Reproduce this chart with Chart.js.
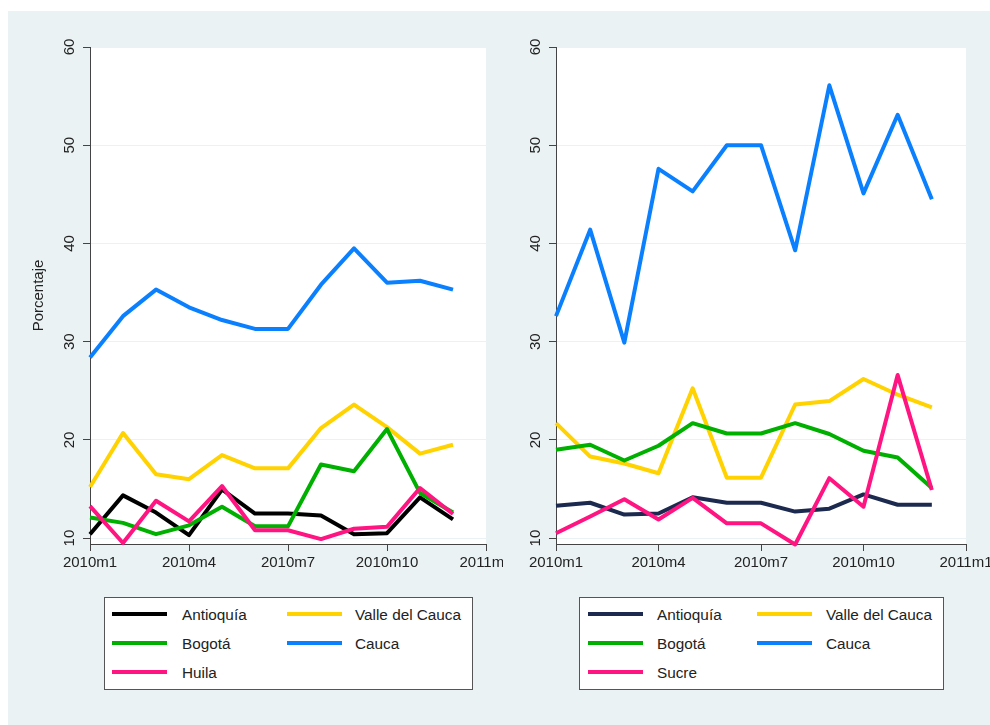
<!DOCTYPE html>
<html>
<head>
<meta charset="utf-8">
<script src="https://cdn.jsdelivr.net/npm/chart.js@4.4.1/dist/chart.umd.min.js"></script>
<style>
  body { margin: 0; width: 990px; height: 725px; overflow: hidden; position: relative; background: #fff;
         font-family: "Liberation Sans", Arial, sans-serif; }
  #bg { position: absolute; left: 8px; top: 11px; right: 0; bottom: 0; background: #eaf2f3; }
  canvas { position: absolute; top: 11px; }
  .legend { position: absolute; top: 597px; height: 93px; box-sizing: border-box; border: 1px solid #555; background: #fff; }
  .legend .swatch { position: absolute; width: 55px; height: 4px; }
  .legend .name { position: absolute; font-size: 15.3px; line-height: 18px; color: #222; white-space: nowrap; }
</style>
</head>
<body>
<div id="bg"></div>
<canvas id="left" width="495" height="580" style="left:8px"></canvas>
<canvas id="right" width="487" height="580" style="left:503px"></canvas>
<div class="legend" id="legLeft" style="left:104px;width:369px"></div>
<div class="legend" id="legRight" style="left:579px;width:365px"></div>
<script>
// monthly x axis, 2010m1 .. 2011m1
const months = ['2010m1', '2010m2', '2010m3', '2010m4', '2010m5', '2010m6', '2010m7',
                '2010m8', '2010m9', '2010m10', '2010m11', '2010m12', '2011m1'];
const yTicks = [10, 20, 30, 40, 50, 60];

// left panel
const leftAntioquia = [10.4, 14.35, 12.6, 10.3, 14.95, 12.5, 12.5, 12.3, 10.4, 10.5, 14.15, 11.9];
const leftValle     = [15.2, 20.7, 16.5, 16.0, 18.45, 17.1, 17.1, 21.2, 23.6, 21.3, 18.6, 19.5];
const leftBogota    = [12.1, 11.55, 10.4, 11.3, 13.2, 11.2, 11.2, 17.5, 16.8, 21.1, 14.6, 12.6];
const leftCauca     = [28.4, 32.6, 35.3, 33.5, 32.2, 31.3, 31.3, 35.8, 39.5, 36.0, 36.2, 35.3];
const leftHuila     = [13.25, 9.5, 13.8, 11.7, 15.3, 10.8, 10.8, 9.9, 10.95, 11.15, 15.1, 12.45];

// right panel
const rightAntioquia = [13.3, 13.6, 12.4, 12.5, 14.15, 13.6, 13.6, 12.7, 13.0, 14.45, 13.4, 13.4];
const rightValle     = [21.7, 18.3, 17.6, 16.6, 25.25, 16.15, 16.15, 23.6, 23.95, 26.2, 24.6, 23.3];
const rightBogota    = [19.0, 19.5, 17.9, 19.4, 21.7, 20.65, 20.65, 21.7, 20.6, 18.9, 18.2, 15.1];
const rightCauca     = [32.6, 41.4, 29.9, 47.6, 45.3, 50.0, 50.0, 39.3, 56.1, 45.1, 53.1, 44.5];
const rightSucre     = [10.5, 12.2, 13.95, 11.9, 14.1, 11.5, 11.5, 9.35, 16.1, 13.2, 26.6, 14.9];

const BLACK = '#000000', NAVY = '#1d2a4f', GOLD = '#ffd200', GREEN = '#00b000', BLUE = '#0a80ff', PINK = '#ff1482';
const FONT = '"Liberation Sans", Arial, sans-serif';

Chart.defaults.font.family = FONT;
Chart.defaults.font.size = 15;
Chart.defaults.color = '#222';

function series(label, data, color) {
  return { label: label, data: data, borderColor: color, backgroundColor: color,
           borderWidth: 4, borderJoinStyle: 'round', pointRadius: 0, tension: 0, clip: false };
}

// white plot region + vertical y tick labels
const plotBox = {
  id: 'plotBox',
  beforeDraw(chart) {
    const a = chart.chartArea, ctx = chart.ctx;
    ctx.save();
    ctx.fillStyle = '#fff';
    ctx.fillRect(a.left, a.top, a.right - a.left, a.bottom - a.top);
    ctx.restore();
  },
  afterDraw(chart) {
    const y = chart.scales.y, ctx = chart.ctx;
    ctx.save();
    ctx.font = '15px ' + FONT;
    ctx.fillStyle = '#222';
    ctx.textAlign = 'center';
    ctx.textBaseline = 'middle';
    y.ticks.forEach(t => {
      ctx.save();
      ctx.translate(chart.chartArea.left - 20, y.getPixelForValue(t.value));
      ctx.rotate(-Math.PI / 2);
      ctx.fillText(String(t.value), 0, 0);
      ctx.restore();
    });
    ctx.restore();
  }
};

function makeChart(id, datasets, yWidth, padRight, showTitle) {
  // later series are drawn on top
  datasets.forEach((d, i) => { d.order = datasets.length - i; });
  return new Chart(document.getElementById(id), {
    type: 'line',
    data: { labels: months, datasets: datasets },
    plugins: [plotBox],
    options: {
      responsive: false,
      animation: false,
      layout: { padding: { top: 36, right: padRight, left: 0, bottom: 0 } },
      plugins: { legend: { display: false }, tooltip: { enabled: false } },
      scales: {
        x: {
          type: 'category',
          bounds: 'ticks',
          afterBuildTicks: s => { s.ticks = s.ticks.filter(t => t.value % 3 === 0); },
          afterFit: s => { s.height = 47; s.paddingLeft = 0; s.paddingRight = 0; },
          grid: { drawOnChartArea: false, tickLength: 7, tickColor: '#444' },
          border: { color: '#444', width: 1 },
          ticks: { autoSkip: false, maxRotation: 0, minRotation: 0, padding: 3, color: '#222' }
        },
        y: {
          min: 9.4,
          max: 60,
          afterBuildTicks: s => { s.ticks = yTicks.map(v => ({ value: v })); },
          afterFit: s => { s.width = yWidth; s.paddingTop = 0; s.paddingBottom = 0; },
          grid: { color: '#eaf2f3', lineWidth: 1, tickLength: 7, tickColor: '#444' },
          border: { color: '#444', width: 1 },
          ticks: { display: false },
          title: { display: showTitle, text: 'Porcentaje', color: '#222',
                   padding: { top: 22, bottom: 0 } }
        }
      }
    }
  });
}

function buildLegend(el, datasets, cols) {
  const rows = [16, 45, 74];
  datasets.forEach((d, i) => {
    const c = cols[i % 2], r = rows[Math.floor(i / 2)];
    const sw = document.createElement('div');
    sw.className = 'swatch';
    sw.style.left = c[0] + 'px';
    sw.style.top = (r - 2) + 'px';
    sw.style.background = d.borderColor;
    el.appendChild(sw);
    const tx = document.createElement('div');
    tx.className = 'name';
    tx.style.left = c[1] + 'px';
    tx.style.top = (r - 8) + 'px';
    tx.textContent = d.label;
    el.appendChild(tx);
  });
}

const leftSets = [
  series('Antioquía', leftAntioquia, BLACK),
  series('Valle del Cauca', leftValle, GOLD),
  series('Bogotá', leftBogota, GREEN),
  series('Cauca', leftCauca, BLUE),
  series('Huila', leftHuila, PINK)
];
const rightSets = [
  series('Antioquía', rightAntioquia, NAVY),
  series('Valle del Cauca', rightValle, GOLD),
  series('Bogotá', rightBogota, GREEN),
  series('Cauca', rightCauca, BLUE),
  series('Sucre', rightSucre, PINK)
];

makeChart('left', leftSets, 82, 17, true);
makeChart('right', rightSets, 53, 24, false);

buildLegend(document.getElementById('legLeft'), leftSets, [[7, 77], [182, 250]]);
buildLegend(document.getElementById('legRight'), rightSets, [[8, 77], [177, 246]]);
</script>
</body>
</html>
